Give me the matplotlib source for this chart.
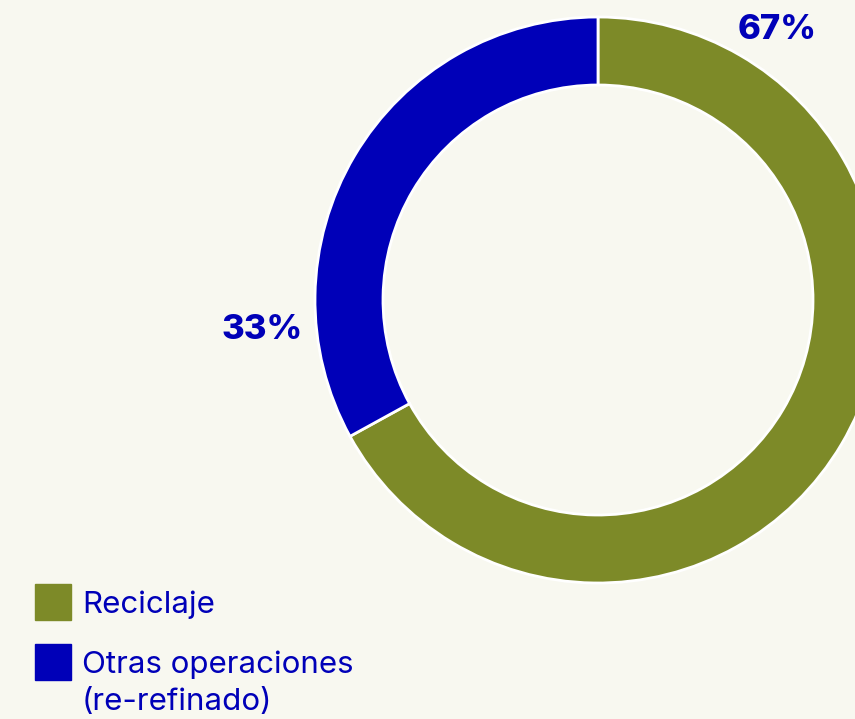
import matplotlib.pyplot as plt
from matplotlib.patches import Rectangle

# data
labels = ["Reciclaje", "Otras operaciones\n(re-refinado)"]
values = [67, 33]
colors = ["#7D8A28", "#0000B8"]
bg = "#F8F8F0"

W, H = 855, 719
fig = plt.figure(figsize=(W / 100, H / 100), dpi=100, facecolor=bg)
ax = fig.add_axes([0, 0, 1, 1])
ax.set_facecolor(bg)

# donut (pixel coords, y flipped)
cx, cy, r = 598, H - 300, 283
ax.pie(values, colors=colors, startangle=90, counterclock=False,
       center=(cx, cy), radius=r, frame=True,
       wedgeprops=dict(width=68, edgecolor="white", linewidth=2))
ax.set_xlim(0, W)
ax.set_ylim(0, H)
ax.set_aspect("equal")
ax.axis("off")

# percent labels
lab_pos = [(777, 30), (262, 330)]
for v, (x, y) in zip(values, lab_pos):
    ax.text(x, H - y, f"{v}%", ha="center", va="center", fontsize=25,
            fontweight="heavy", color="#0000B8", family="Inter")

# legend, square + one text line per row
leg_y = [602, 662]
for lab, c, y in zip(labels, colors, leg_y):
    ax.add_patch(Rectangle((35, H - y - 18), 36, 36, color=c))
    for i, line in enumerate(lab.split("\n")):
        ax.text(82, H - (y + 11 + i * 37), line, ha="left", va="baseline",
                fontsize=22.5, color="#0000B8", family="Inter")

fig.savefig("out.png", dpi=100, facecolor=bg)
